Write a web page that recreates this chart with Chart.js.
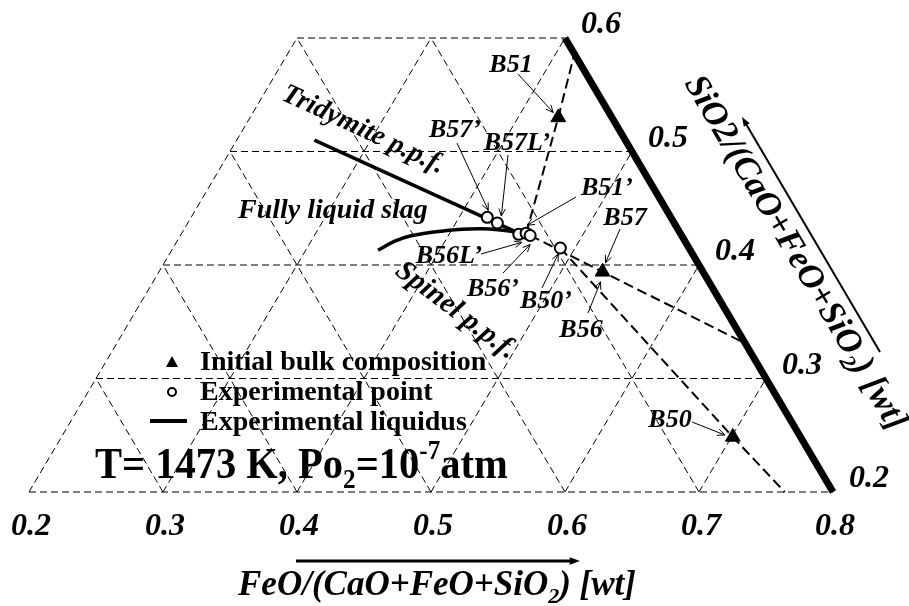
<!DOCTYPE html>
<html>
<head>
<meta charset="utf-8">
<script src="https://cdn.jsdelivr.net/npm/chart.js@4/dist/chart.umd.min.js"></script>
<style>
  html, body { margin: 0; padding: 0; background: #fff; }
  canvas { display: block; }
</style>
</head>
<body>
<canvas id="c" width="909" height="606"></canvas>
<script>
// ---- Composition grid (mass fractions) ----
const feoTicks  = [0.2, 0.3, 0.4, 0.5, 0.6, 0.7, 0.8];
const sio2Ticks = [0.2, 0.3, 0.4, 0.5, 0.6];
const caoLevels = [0.1, 0.2, 0.3, 0.4, 0.5];

// ---- Initial bulk compositions: B51, B57/B56, B50 ----
const bulkNames = ['B51', 'B57', 'B50'];
const bulkFeO   = [0.430, 0.531, 0.701];
const bulkSiO2  = [0.530, 0.394, 0.2485];

// ---- Experimental liquid compositions ----
const expNames = ['B57’', 'B57L’', 'B56L’', 'B51’', 'B56’', 'B50’'];
const expFeO   = [0.421, 0.431, 0.452, 0.457, 0.461, 0.489];
const expSiO2  = [0.442, 0.437, 0.427, 0.428, 0.426, 0.415];

// ---- Experimental liquidus: tridymite and spinel primary phase fields ----
const tridFeO  = [0.258, 0.454];
const tridSiO2 = [0.510, 0.427];
const spinFeO  = [0.354, 0.3625, 0.3715, 0.394, 0.413, 0.428, 0.450];
const spinSiO2 = [0.413, 0.421, 0.4256, 0.430, 0.4317, 0.4317, 0.429];

// ---- Tie lines: liquid -> bulk -> solid ----
const tieFeO  = [[0.457, 0.430, 0.414], [0.461, 0.531, 0.669], [0.489, 0.701, 0.764]];
const tieSiO2 = [[0.428, 0.530, 0.586], [0.426, 0.394, 0.331], [0.415, 0.2485, 0.200]];

// Ternary (FeO, SiO2) -> plane coordinates
const toXY = (f, s) => ({ x: f + s / 2, y: s });

const FAM = '"Liberation Serif", "Times New Roman", serif';
const datasets = [];
function addLine(pts, style, order) {
  datasets.push(Object.assign({
    type: 'scatter', data: pts, showLine: true, pointRadius: 0,
    borderColor: '#000', backgroundColor: '#000', fill: false,
    clip: false, tension: 0, order: order
  }, style));
}

const thinDash = { borderWidth: 1, borderDash: [7, 4] };
sio2Ticks.forEach(s => addLine([toXY(0.2, s), toXY(1 - s, s)], thinDash, 10));
feoTicks.forEach(f => {
  const top = Math.min(0.6, 1 - f);
  if (top > 0.2 + 1e-9) addLine([toXY(f, 0.2), toXY(f, top)], thinDash, 10);
});
caoLevels.forEach(c => {
  const top = Math.min(0.6, 0.8 - c);
  addLine([toXY(0.8 - c, 0.2), toXY(1 - c - top, top)], thinDash, 10);
});
// CaO-free edge
addLine([toXY(0.8, 0.2), toXY(0.4, 0.6)], { borderWidth: 7 }, 8);
// tie lines
tieFeO.forEach((fs, i) => addLine(fs.map((f, j) => toXY(f, tieSiO2[i][j])),
  { borderWidth: 2, borderDash: [10, 5] }, 7));
// liquidus lines
addLine(tridFeO.map((f, i) => toXY(f, tridSiO2[i])), { borderWidth: 3.5 }, 6);
addLine(spinFeO.map((f, i) => toXY(f, spinSiO2[i])), { borderWidth: 3.5, tension: 0.4 }, 6);

// markers
datasets.push({
  type: 'scatter', order: 1, clip: false,
  data: expFeO.map((f, i) => toXY(f, expSiO2[i])),
  pointStyle: 'circle', pointRadius: 5.5, pointBackgroundColor: '#fff',
  pointBorderColor: '#000', pointBorderWidth: 2
});
datasets.push({
  type: 'scatter', order: 0, clip: false,
  data: bulkFeO.map((f, i) => toXY(f, bulkSiO2[i])),
  pointStyle: 'triangle', pointRadius: 8.5, pointBackgroundColor: '#000',
  pointBorderColor: '#000', pointBorderWidth: 1
});

// ---- text helpers ----
// parts: [text, 'sub'|'sup'|undefined]; mid: place the middle line (not baseline) at y
function rich(ctx, parts, x, y, size, style, align, rot, sx, mid) {
  ctx.save();
  ctx.translate(x, y);
  if (rot) ctx.rotate(rot * Math.PI / 180);
  if (sx) ctx.scale(sx, 1);
  const fontFor = k => `${style} ${k ? Math.round(size * 0.62) : size}px ${FAM}`;
  let w = 0;
  parts.forEach(([t, k]) => { ctx.font = fontFor(k); w += ctx.measureText(t).width; });
  let cx = align === 'center' ? -w / 2 : align === 'right' ? -w : 0;
  const by = mid ? size * 0.33 : 0;
  ctx.textAlign = 'left';
  ctx.textBaseline = 'alphabetic';
  ctx.fillStyle = '#000';
  parts.forEach(([t, k]) => {
    ctx.font = fontFor(k);
    const dy = k === 'sub' ? size * 0.22 : k === 'sup' ? -size * 0.42 : 0;
    ctx.fillText(t, cx, by + dy);
    cx += ctx.measureText(t).width;
  });
  ctx.restore();
}
function arrow(ctx, x1, y1, x2, y2, lw, head, filled) {
  const a = Math.atan2(y2 - y1, x2 - x1);
  ctx.save();
  ctx.strokeStyle = '#000'; ctx.fillStyle = '#000'; ctx.lineWidth = lw;
  ctx.beginPath(); ctx.moveTo(x1, y1);
  ctx.lineTo(filled ? x2 - Math.cos(a) * head * 0.8 : x2, filled ? y2 - Math.sin(a) * head * 0.8 : y2);
  ctx.stroke();
  const s = filled ? 0.35 : 0.42;
  ctx.beginPath();
  ctx.moveTo(x2 - head * Math.cos(a - s), y2 - head * Math.sin(a - s));
  ctx.lineTo(x2, y2);
  ctx.lineTo(x2 - head * Math.cos(a + s), y2 - head * Math.sin(a + s));
  if (filled) { ctx.closePath(); ctx.fill(); } else { ctx.stroke(); }
  ctx.restore();
}

// labels: text, centre x, baseline y, arrow tail, target mark, head offset from mark
const pointLabels = [
  { t: 'B51',   x: 511, y: 72,  tx: 518, ty: 74,  set: 'bulk', i: 0, dx: -5, dy: -5 },
  { t: 'B57',   x: 625, y: 225, tx: 620, ty: 229, set: 'bulk', i: 1, dx: 3,  dy: -9 },
  { t: 'B56',   x: 581, y: 337, tx: 588, ty: 313, set: 'bulk', i: 1, dx: -2, dy: 10 },
  { t: 'B50',   x: 670, y: 427, tx: 692, ty: 422, set: 'bulk', i: 2, dx: -8, dy: -2 },
  { t: 'B57’',  x: 455, y: 137, tx: 457, ty: 143, set: 'exp',  i: 0, dx: 1,  dy: -7 },
  { t: 'B57L’', x: 517, y: 150, tx: 508, ty: 155, set: 'exp',  i: 1, dx: 4,  dy: -7 },
  { t: 'B56L’', x: 449, y: 263, tx: 481, ty: 254, set: 'exp',  i: 2, dx: 3,  dy: 8 },
  { t: 'B51’',  x: 607, y: 195, tx: 576, ty: 197, set: 'exp',  i: 3, dx: 1,  dy: -8 },
  { t: 'B56’',  x: 493, y: 296, tx: 503, ty: 273, set: 'exp',  i: 4, dx: 0,  dy: 9 },
  { t: 'B50’',  x: 546, y: 308, tx: 542, ty: 288, set: 'exp',  i: 5, dx: -2, dy: 6 }
];

const textPlugin = {
  id: 'ternaryText',
  afterDraw(chart) {
    const ctx = chart.ctx;
    const xs = chart.scales.x, ys = chart.scales.y;
    const px = (f, s) => [xs.getPixelForValue(f + s / 2), ys.getPixelForValue(s)];

    // FeO tick labels along the base
    feoTicks.forEach(f => {
      const [x, y] = px(f, 0.2);
      rich(ctx, [[f.toFixed(1)]], x + 2, y + 43, 32, 'italic bold', 'center');
    });
    // SiO2 tick labels along the CaO-free edge
    sio2Ticks.forEach(s => {
      const [x, y] = px(1 - s, s);
      rich(ctx, [[s.toFixed(1)]], x + 36, y - 5, 32, 'italic bold', 'center');
    });

    // FeO axis title and arrow
    arrow(ctx, 296, 561, 580, 561, 3, 11, true);
    rich(ctx, [['FeO/(CaO+FeO+SiO'], ['2', 'sub'], [') [wt]']], 437, 595, 35, 'italic bold', 'center');

    // SiO2 axis title and arrow (parallel to the CaO-free edge)
    const [ax, ay] = px(0.8, 0.2), [bx, by] = px(0.4, 0.6);
    const ang = Math.atan2(ay - by, ax - bx) * 180 / Math.PI;
    arrow(ctx, 880, 352, 742, 117, 2, 10, true);
    rich(ctx, [['SiO2/(CaO+FeO+SiO'], ['2', 'sub'], [') [wt]']], 797, 252, 35, 'italic bold', 'center', ang, 0, true);

    // phase-field names
    rich(ctx, [['Tridymite p.p.f.']], 364, 128, 28, 'italic bold', 'center', 25, 0, true);
    rich(ctx, [['Spinel p.p.f.']], 457, 309, 29, 'italic bold', 'center', 37, 0, true);
    rich(ctx, [['Fully liquid slag']], 238, 218, 28, 'italic bold', 'left');

    // point labels with arrows
    const bulkMeta = chart.getDatasetMeta(chart.data.datasets.length - 1);
    const expMeta = chart.getDatasetMeta(chart.data.datasets.length - 2);
    pointLabels.forEach(l => {
      const el = (l.set === 'bulk' ? bulkMeta : expMeta).data[l.i];
      rich(ctx, [[l.t]], l.x, l.y, 26, 'italic bold', 'center');
      arrow(ctx, l.tx, l.ty, el.x + l.dx, el.y + l.dy, 1, 8, false);
    });

    // legend
    ctx.save();
    ctx.fillStyle = '#000';
    ctx.beginPath();
    ctx.moveTo(172, 356); ctx.lineTo(178, 367); ctx.lineTo(166, 367); ctx.closePath(); ctx.fill();
    ctx.lineWidth = 2; ctx.strokeStyle = '#000';
    ctx.beginPath(); ctx.arc(172, 392, 4, 0, Math.PI * 2); ctx.stroke();
    ctx.lineWidth = 4;
    ctx.beginPath(); ctx.moveTo(150, 421); ctx.lineTo(187, 421); ctx.stroke();
    ctx.restore();
    rich(ctx, [['Initial bulk composition']], 200, 370, 28, 'bold', 'left');
    rich(ctx, [['Experimental point']], 200, 400, 28, 'bold', 'left');
    rich(ctx, [['Experimental liquidus']], 200, 430, 28, 'bold', 'left');

    // conditions
    rich(ctx, [['T= 1473 K, Po'], ['2', 'sub'], ['=10'], ['-7', 'sup'], ['atm']], 95, 478, 45, 'bold', 'left', 0, 0.9);
  }
};

new Chart(document.getElementById('c'), {
  type: 'scatter',
  data: { datasets },
  options: {
    responsive: false,
    animation: false,
    devicePixelRatio: 1,
    events: [],
    layout: { padding: 0, autoPadding: false },
    plugins: { legend: { display: false }, tooltip: { enabled: false } },
    scales: {
      x: { type: 'linear', display: false, min: 0.9 - 833 / 1340, max: 0.9 + 76 / 1340 },
      y: { type: 'linear', display: false, min: 0.2 - 114 / 1135, max: 0.2 + 492 / 1135 }
    }
  },
  plugins: [textPlugin]
});
</script>
</body>
</html>
